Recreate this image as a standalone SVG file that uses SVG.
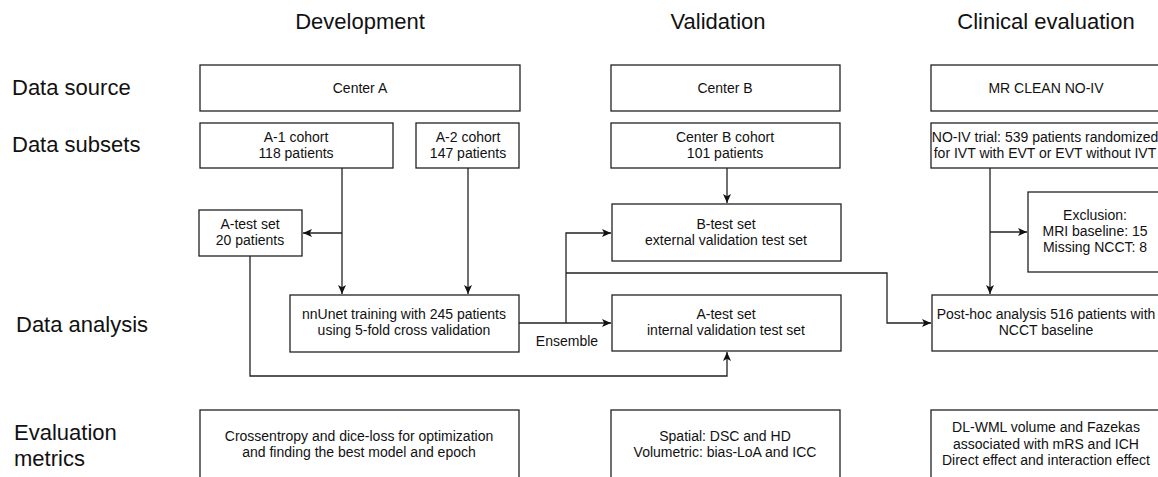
<svg xmlns="http://www.w3.org/2000/svg" width="1158" height="477" viewBox="0 0 1158 477">
<style>
.box{fill:#fff;stroke:#222;stroke-width:1.3}
.t{font-family:"Liberation Sans",Arial,sans-serif;font-size:14px;fill:#111;text-anchor:middle}
.h{font-family:"Liberation Sans",Arial,sans-serif;font-size:22px;fill:#111;text-anchor:middle}
.r{font-family:"Liberation Sans",Arial,sans-serif;font-size:22px;fill:#111}
.c{fill:none;stroke:#222;stroke-width:1.3}
</style>
<defs>
<marker id="ah" markerUnits="userSpaceOnUse" markerWidth="10" markerHeight="10" refX="9" refY="4" orient="auto">
<path d="M0,0 L9,4 L0,8 L2.2,4 Z" fill="#111"/>
</marker>
</defs>
<rect width="1158" height="477" fill="#fff"/>
<g id="headers">
<text class="h" x="360" y="29">Development</text>
<text class="h" x="718" y="29">Validation</text>
<text class="h" x="1046" y="29">Clinical evaluation</text>
<text class="r" x="12" y="95">Data source</text>
<text class="r" x="12" y="152">Data subsets</text>
<text class="r" x="16" y="332">Data analysis</text>
<text class="r" x="14" y="440">Evaluation</text>
<text class="r" x="14" y="466">metrics</text>
</g>
<g id="connectors">
<path class="c" d="M342,168 V294" marker-end="url(#ah)"/>
<path class="c" d="M342,233 H303" marker-end="url(#ah)"/>
<path class="c" d="M468,168 V294" marker-end="url(#ah)"/>
<path class="c" d="M727,168 V203" marker-end="url(#ah)"/>
<path class="c" d="M519,323 H611" marker-end="url(#ah)"/>
<path class="c" d="M566,323 V233 H611" marker-end="url(#ah)"/>
<path class="c" d="M566,273 H887 V323 H931" marker-end="url(#ah)"/>
<path class="c" d="M250,256 V376 H727 V352" marker-end="url(#ah)"/>
<path class="c" d="M990,168 V294" marker-end="url(#ah)"/>
<path class="c" d="M990,232 H1027" marker-end="url(#ah)"/>
<text class="t" x="567" y="346">Ensemble</text>
</g>
<g id="centerA"><rect class="box" x="200" y="65" width="320" height="46"/><text class="t" x="360" y="93">Center A</text></g>
<g id="centerB"><rect class="box" x="611" y="65" width="229" height="46"/><text class="t" x="725" y="93">Center B</text></g>
<g id="mrclean"><rect class="box" x="931" y="65" width="231" height="46"/><text class="t" x="1046" y="93">MR CLEAN NO-IV</text></g>
<g id="a1"><rect class="box" x="200" y="123" width="193" height="45"/><text class="t" x="296" y="142">A-1 cohort</text><text class="t" x="296" y="158">118 patients</text></g>
<g id="a2"><rect class="box" x="416" y="123" width="103" height="45"/><text class="t" x="468" y="142">A-2 cohort</text><text class="t" x="468" y="158">147 patients</text></g>
<g id="bcohort"><rect class="box" x="611" y="123" width="229" height="45"/><text class="t" x="725" y="142">Center B cohort</text><text class="t" x="725" y="158">101 patients</text></g>
<g id="noiv"><rect class="box" x="931" y="123" width="231" height="45"/><text class="t" x="1045" y="142">NO-IV trial: 539 patients randomized</text><text class="t" x="1045" y="158">for IVT with EVT or EVT without IVT</text></g>
<g id="atest"><rect class="box" x="199" y="210" width="103" height="46"/><text class="t" x="250" y="229">A-test set</text><text class="t" x="250" y="245">20 patients</text></g>
<g id="btest"><rect class="box" x="612" y="204" width="229" height="57"/><text class="t" x="726" y="229">B-test set</text><text class="t" x="726" y="245">external validation test set</text></g>
<g id="exclusion"><rect class="box" x="1028" y="192" width="134" height="80"/><text class="t" x="1095" y="220">Exclusion:</text><text class="t" x="1095" y="236">MRI baseline: 15</text><text class="t" x="1095" y="252">Missing NCCT: 8</text></g>
<g id="nnunet"><rect class="box" x="290" y="295" width="229" height="57"/><text class="t" x="404" y="319">nnUnet training with 245 patients</text><text class="t" x="404" y="335">using 5-fold cross validation</text></g>
<g id="ainternal"><rect class="box" x="612" y="295" width="229" height="56"/><text class="t" x="726" y="319">A-test set</text><text class="t" x="726" y="335">internal validation test set</text></g>
<g id="posthoc"><rect class="box" x="932" y="295" width="230" height="56"/><text class="t" x="1046" y="319">Post-hoc analysis 516 patients with</text><text class="t" x="1046" y="335">NCCT baseline</text></g>
<g id="evalDev"><rect class="box" x="200" y="410" width="319" height="72"/><text class="t" x="359" y="441">Crossentropy and dice-loss for optimization</text><text class="t" x="359" y="457">and finding the best model and epoch</text></g>
<g id="evalVal"><rect class="box" x="611" y="410" width="229" height="72"/><text class="t" x="725" y="441">Spatial: DSC and HD</text><text class="t" x="725" y="457">Volumetric: bias-LoA and ICC</text></g>
<g id="evalClin"><rect class="box" x="931" y="410" width="231" height="72"/><text class="t" x="1046" y="432">DL-WML volume and Fazekas</text><text class="t" x="1046" y="449">associated with mRS and ICH</text><text class="t" x="1046" y="465">Direct effect and interaction effect</text></g>
</svg>
